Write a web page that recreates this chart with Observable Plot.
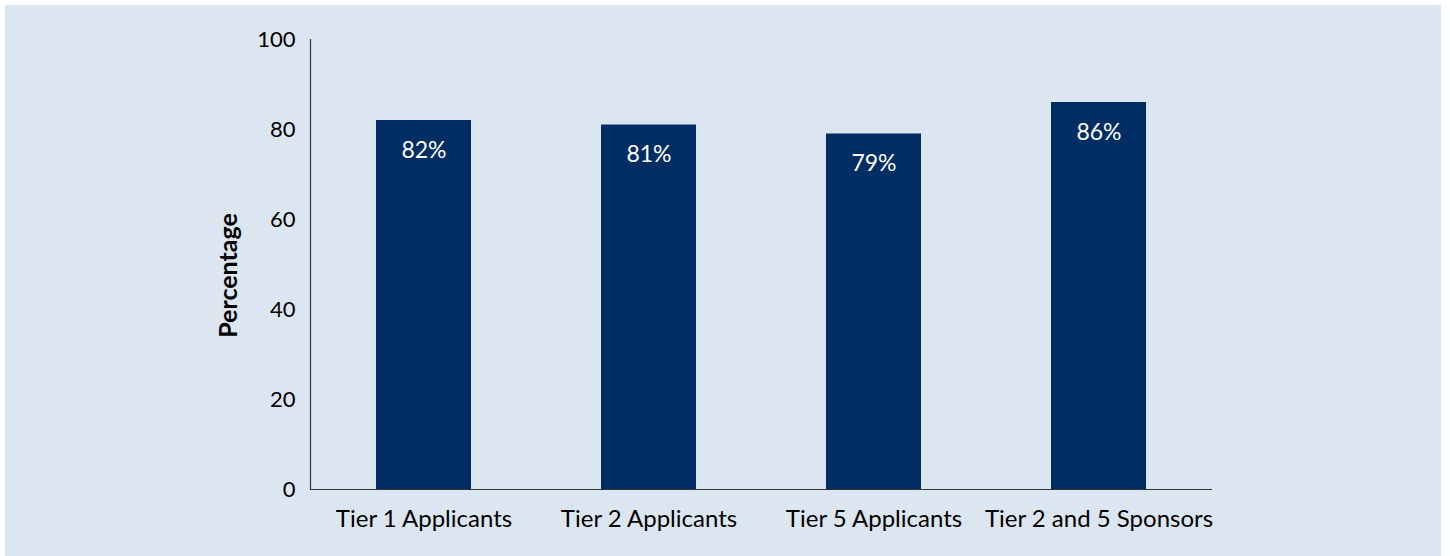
<!DOCTYPE html>
<html>
<head>
<meta charset="utf-8">
<script src="https://cdn.jsdelivr.net/npm/d3@7"></script>
<script src="https://cdn.jsdelivr.net/npm/@observablehq/plot@0.6"></script>
<style>
  html, body { margin: 0; padding: 0; background: #ffffff; }
  #panel {
    position: absolute; left: 5px; top: 5px;
    width: 1436px; height: 551px;
    background: #dce6f1;
  }
  #panel svg { display: block; }
</style>
</head>
<body>
<div id="panel"></div>
<script>
const categories = ["Tier 1 Applicants", "Tier 2 Applicants", "Tier 5 Applicants", "Tier 2 and 5 Sponsors"];
const values = [82, 81, 79, 86];
const yTicks = [0, 20, 40, 60, 80, 100];
const yLabel = "Percentage";

const data = categories.map((c, i) => ({category: c, value: values[i]}));

const plot = Plot.plot({
  width: 1436,
  height: 551,
  marginLeft: 305,
  marginRight: 229,
  marginTop: 34,
  marginBottom: 67,
  style: {background: "transparent", fontFamily: "Lato, 'Open Sans', sans-serif", fontSize: "23px", color: "#000"},
  x: {domain: categories, paddingInner: 0.58, paddingOuter: 0.29, label: null},
  y: {domain: [0, 100], label: null},
  marks: [
    Plot.barY(data, {x: "category", y: "value", fill: "#002d64"}),
    Plot.text(data, {x: "category", y: "value", text: d => d.value + "%", dy: 30, fill: "#ffffff", fontSize: 23}),
    Plot.axisY({ticks: yTicks, tickSize: 0, tickPadding: 15, fontSize: 22, label: null}),
    Plot.axisX({tickSize: 0, tickPadding: 20, fontSize: 24, label: null}),
    Plot.ruleY([0], {stroke: "#333333", strokeWidth: 1.2}),
    Plot.frame({anchor: "left", stroke: "#333333", strokeWidth: 1.2}),
    Plot.text([yLabel], {frameAnchor: "left", textAnchor: "middle", dx: -82, dy: 11, rotate: -90, text: d => d, fontWeight: "bold", fontSize: 25, fill: "#000"})
  ]
});
document.getElementById("panel").appendChild(plot);
</script>
</body>
</html>
